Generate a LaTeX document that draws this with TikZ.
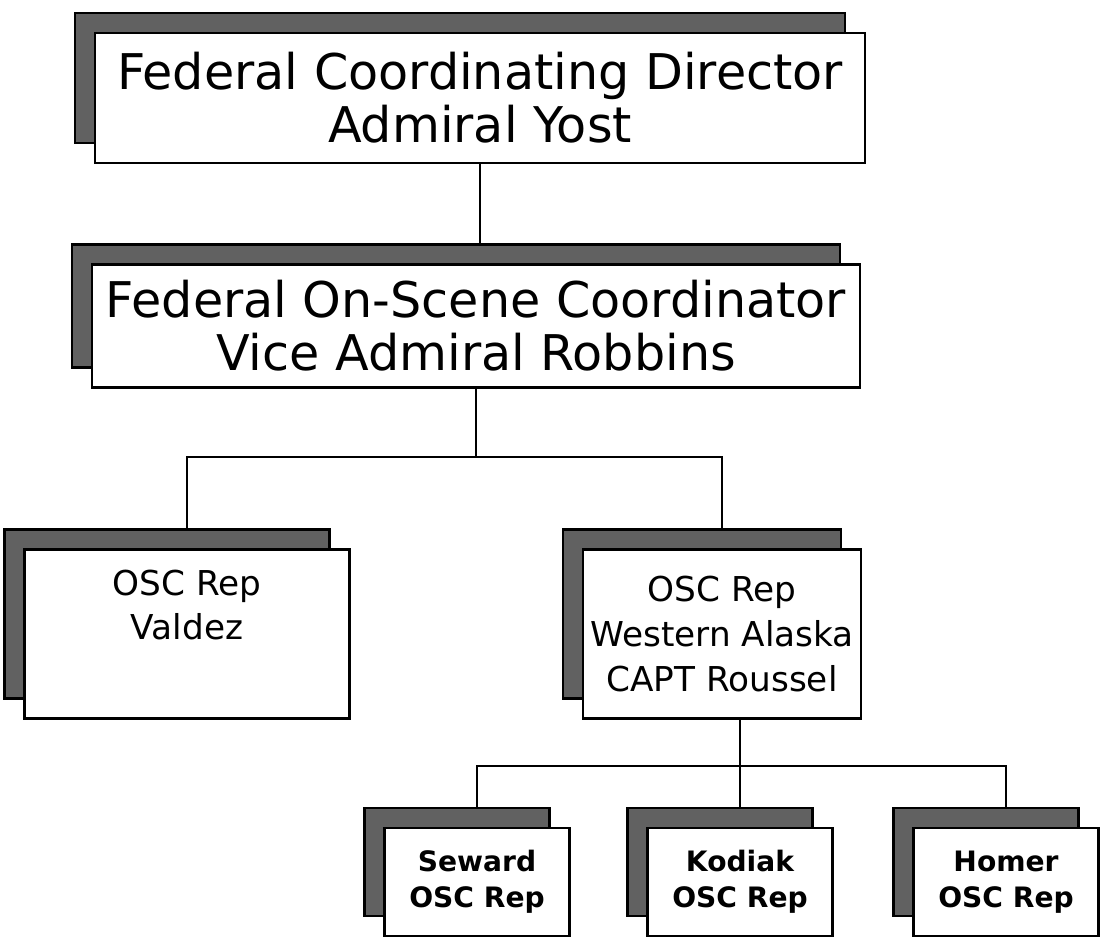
\documentclass[tikz,border=0pt]{standalone}
\usepackage{fontspec}
\setmainfont{DejaVu Sans}
\usetikzlibrary{shadows}

\begin{document}
\begin{tikzpicture}[x=0.2mm, y=-0.2mm, line width=1.5pt,
		box/.style={draw, fill=white, inner sep=0pt, align=center,
			drop shadow={shadow xshift=-4mm, shadow yshift=4mm, fill=black!62, draw=black, opacity=1}},
		bigbox/.style={box, font=\fontsize{28}{30}\selectfont},
		repbox/.style={box, font=\fontsize{19.5}{25.5}\selectfont, minimum height=33.8mm},
		smallbox/.style={box, font=\fontsize{16}{20.4}\selectfont\bfseries, minimum width=37mm, minimum height=21.6mm}]
		\useasboundingbox (0,0) rectangle (1105,940);
		\node[bigbox, minimum width=154mm, minimum height=26mm] (fcd) at (480,98) {Federal Coordinating Director\\Admiral Yost};
		\node[bigbox, minimum width=153.6mm, minimum height=24.6mm] (fosc) at (476,326) {Federal On-Scene Coordinator\\Vice Admiral Robbins};
		\node[repbox, minimum width=65mm] (valdez) at (187,634) {OSC Rep\\Valdez\\\strut};
		\node[repbox, minimum width=55.6mm] (wa) at (722,634) {OSC Rep\\Western Alaska\\CAPT Roussel};
		\node[smallbox] (seward) at (477,882) {Seward\\OSC Rep};
		\node[smallbox] (kodiak) at (740,882) {Kodiak\\OSC Rep};
		\node[smallbox] (homer) at (1006,882) {Homer\\OSC Rep};
		\coordinate (upper) at (0,457);
		\coordinate (lower) at (0,766);
		\draw (fcd.south) -- ([yshift=4mm]fcd.south |- fosc.north);
		\draw (fosc.south) -- (fosc.south |- upper);
		\draw ([yshift=4mm]valdez.north) |- (fosc.south |- upper) -| ([yshift=4mm]wa.north);
		\draw (kodiak.north |- wa.south) -- ([yshift=4mm]kodiak.north);
		\draw ([yshift=4mm]seward.north) |- (kodiak.north |- lower) -| ([yshift=4mm]homer.north);
	\end{tikzpicture}
\end{document}
